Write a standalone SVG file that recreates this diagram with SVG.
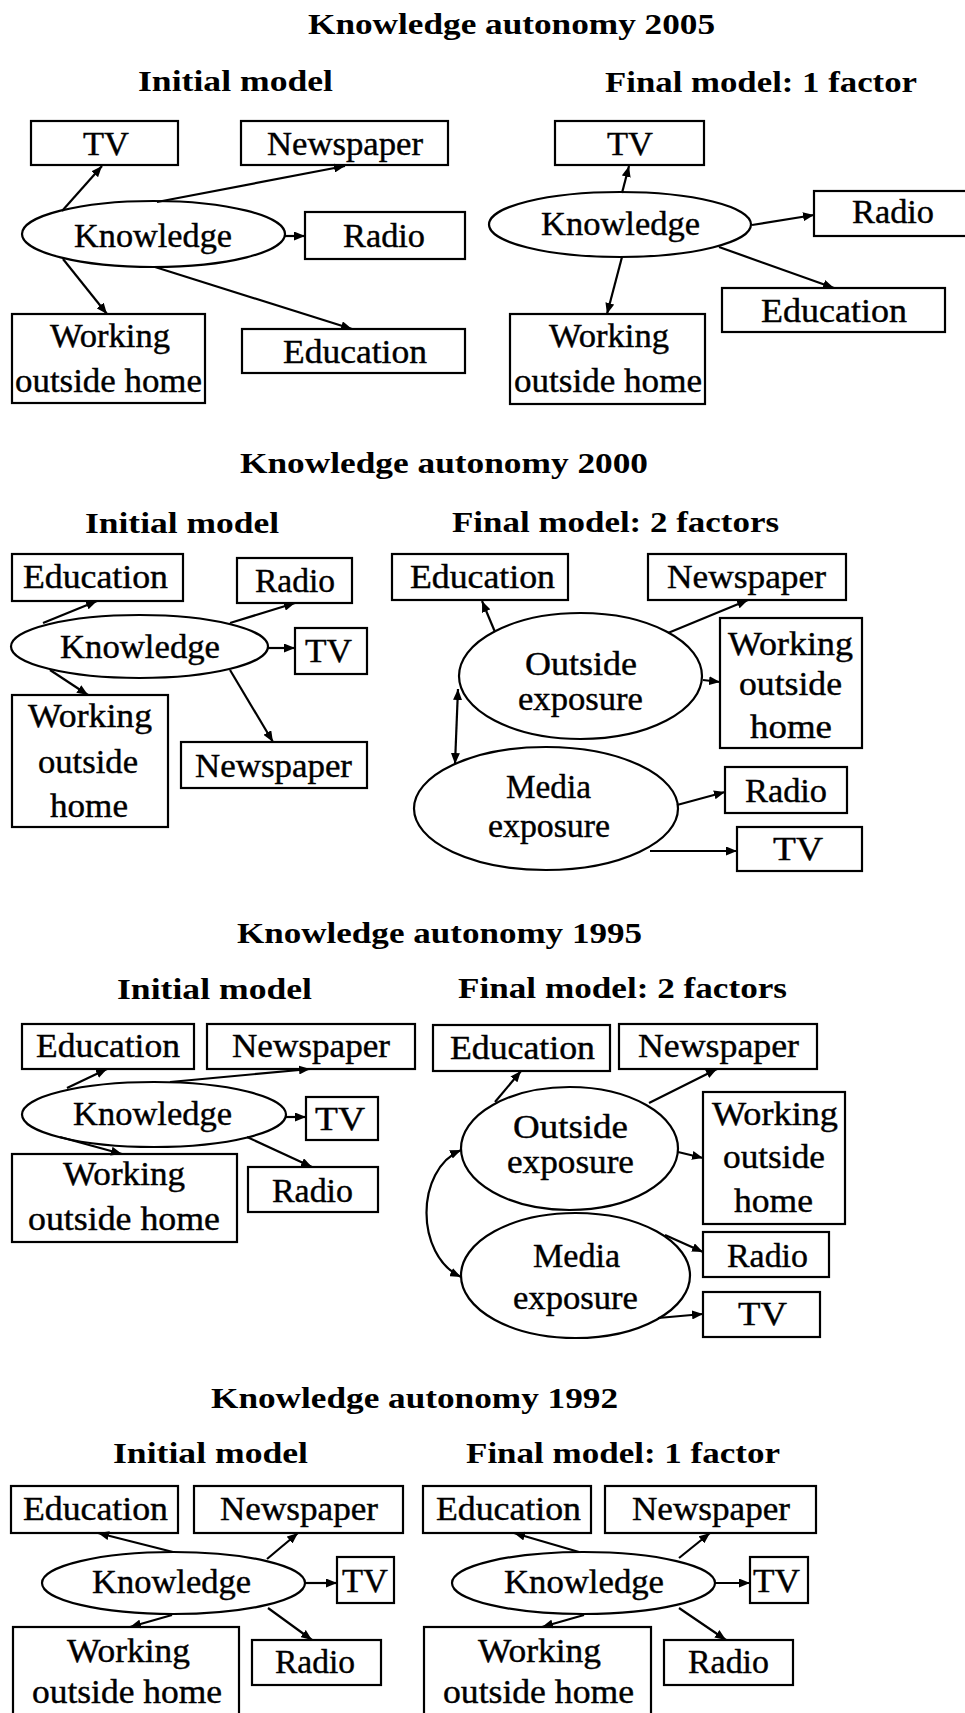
<svg xmlns="http://www.w3.org/2000/svg" width="965" height="1713" viewBox="0 0 965 1713">
  <defs>
    <style>
      .box { fill: #fff; stroke: #000; stroke-width: 2.2; }
      .oval { fill: #fff; stroke: #000; stroke-width: 2.2; }
      .lbl { font-family: "Liberation Serif", "Times New Roman", serif; font-size: 33px; fill: #000; stroke: #000; stroke-width: 0.4; }
      .ttl { font-family: "Liberation Serif", "Times New Roman", serif; font-size: 29px; font-weight: bold; fill: #000; }
      .edge { fill: none; stroke: #000; stroke-width: 2.2; marker-end: url(#ah); }
      .both { marker-start: url(#ah); }
    </style>
    <marker id="ah" viewBox="0 0 11 9" refX="11" refY="4.5" markerWidth="11" markerHeight="9" markerUnits="userSpaceOnUse" orient="auto-start-reverse">
      <path d="M0,0 L11,4.5 L0,9 z" fill="#000"/>
    </marker>
  </defs>
  <rect x="0" y="0" width="965" height="1713" fill="#fff"/>

  <!-- headings -->
  <g id="headings">
    <text class="ttl" x="308" y="34" textLength="407" lengthAdjust="spacingAndGlyphs">Knowledge autonomy 2005</text>
    <text class="ttl" x="138" y="91" textLength="195" lengthAdjust="spacingAndGlyphs">Initial model</text>
    <text class="ttl" x="605" y="92" textLength="312" lengthAdjust="spacingAndGlyphs">Final model: 1 factor</text>

    <text class="ttl" x="240" y="473" textLength="408" lengthAdjust="spacingAndGlyphs">Knowledge autonomy 2000</text>
    <text class="ttl" x="85" y="533" textLength="194" lengthAdjust="spacingAndGlyphs">Initial model</text>
    <text class="ttl" x="452" y="532" textLength="327" lengthAdjust="spacingAndGlyphs">Final model: 2 factors</text>

    <text class="ttl" x="237" y="943" textLength="405" lengthAdjust="spacingAndGlyphs">Knowledge autonomy 1995</text>
    <text class="ttl" x="117" y="999" textLength="195" lengthAdjust="spacingAndGlyphs">Initial model</text>
    <text class="ttl" x="458" y="998" textLength="329" lengthAdjust="spacingAndGlyphs">Final model: 2 factors</text>

    <text class="ttl" x="211" y="1408" textLength="407" lengthAdjust="spacingAndGlyphs">Knowledge autonomy 1992</text>
    <text class="ttl" x="113" y="1463" textLength="195" lengthAdjust="spacingAndGlyphs">Initial model</text>
    <text class="ttl" x="466" y="1463" textLength="314" lengthAdjust="spacingAndGlyphs">Final model: 1 factor</text>
  </g>

  <!-- ===== 2005 initial ===== -->
  <g id="n05i_tv"><rect class="box" x="31" y="121" width="147" height="44"/><text class="lbl" x="83" y="155" textLength="46" lengthAdjust="spacingAndGlyphs">TV</text></g>
  <g id="n05i_news"><rect class="box" x="241" y="121" width="207" height="44"/><text class="lbl" x="267" y="155" textLength="156" lengthAdjust="spacingAndGlyphs">Newspaper</text></g>
  <g id="n05i_know"><ellipse class="oval" cx="153.5" cy="234" rx="131.5" ry="33"/><text class="lbl" x="74" y="247" textLength="158" lengthAdjust="spacingAndGlyphs">Knowledge</text></g>
  <g id="n05i_radio"><rect class="box" x="305" y="212" width="160" height="47"/><text class="lbl" x="343" y="247" textLength="82" lengthAdjust="spacingAndGlyphs">Radio</text></g>
  <g id="n05i_work"><rect class="box" x="12" y="314" width="193" height="89"/><text class="lbl" x="50" y="347" textLength="120" lengthAdjust="spacingAndGlyphs">Working</text><text class="lbl" x="15" y="392" textLength="187" lengthAdjust="spacingAndGlyphs">outside home</text></g>
  <g id="n05i_edu"><rect class="box" x="242" y="329" width="223" height="44"/><text class="lbl" x="283" y="363" textLength="144" lengthAdjust="spacingAndGlyphs">Education</text></g>

  <!-- ===== 2005 final ===== -->
  <g id="n05f_tv"><rect class="box" x="555" y="121" width="149" height="44"/><text class="lbl" x="607" y="155" textLength="46" lengthAdjust="spacingAndGlyphs">TV</text></g>
  <g id="n05f_know"><ellipse class="oval" cx="620" cy="224.5" rx="131" ry="32.5"/><text class="lbl" x="541" y="235" textLength="159" lengthAdjust="spacingAndGlyphs">Knowledge</text></g>
  <g id="n05f_radio"><rect class="box" x="814" y="191" width="160" height="45"/><text class="lbl" x="852" y="223" textLength="82" lengthAdjust="spacingAndGlyphs">Radio</text></g>
  <g id="n05f_edu"><rect class="box" x="722" y="288" width="223" height="44"/><text class="lbl" x="761" y="322" textLength="146" lengthAdjust="spacingAndGlyphs">Education</text></g>
  <g id="n05f_work"><rect class="box" x="510" y="314" width="195" height="90"/><text class="lbl" x="549" y="347" textLength="120" lengthAdjust="spacingAndGlyphs">Working</text><text class="lbl" x="514" y="392" textLength="188" lengthAdjust="spacingAndGlyphs">outside home</text></g>

  <!-- ===== 2000 initial ===== -->
  <g id="n00i_edu"><rect class="box" x="12" y="554" width="171" height="47"/><text class="lbl" x="23" y="588" textLength="145" lengthAdjust="spacingAndGlyphs">Education</text></g>
  <g id="n00i_radio"><rect class="box" x="237" y="558" width="115" height="45"/><text class="lbl" x="255" y="592" textLength="80" lengthAdjust="spacingAndGlyphs">Radio</text></g>
  <g id="n00i_know"><ellipse class="oval" cx="139.5" cy="646.5" rx="128.5" ry="31.5"/><text class="lbl" x="60" y="658" textLength="160" lengthAdjust="spacingAndGlyphs">Knowledge</text></g>
  <g id="n00i_tv"><rect class="box" x="295" y="628" width="72" height="46"/><text class="lbl" x="305" y="662" textLength="47" lengthAdjust="spacingAndGlyphs">TV</text></g>
  <g id="n00i_work"><rect class="box" x="12" y="695" width="156" height="132"/><text class="lbl" x="28" y="727" textLength="124" lengthAdjust="spacingAndGlyphs">Working</text><text class="lbl" x="38" y="773" textLength="100" lengthAdjust="spacingAndGlyphs">outside</text><text class="lbl" x="50" y="817" textLength="78" lengthAdjust="spacingAndGlyphs">home</text></g>
  <g id="n00i_news"><rect class="box" x="181" y="742" width="186" height="46"/><text class="lbl" x="195" y="777" textLength="157" lengthAdjust="spacingAndGlyphs">Newspaper</text></g>

  <!-- ===== 2000 final ===== -->
  <g id="n00f_edu"><rect class="box" x="392" y="554" width="176" height="46"/><text class="lbl" x="410" y="588" textLength="145" lengthAdjust="spacingAndGlyphs">Education</text></g>
  <g id="n00f_news"><rect class="box" x="648" y="554" width="198" height="46"/><text class="lbl" x="667" y="588" textLength="159" lengthAdjust="spacingAndGlyphs">Newspaper</text></g>
  <g id="n00f_work"><rect class="box" x="720" y="618" width="142" height="130"/><text class="lbl" x="728" y="655" textLength="125" lengthAdjust="spacingAndGlyphs">Working</text><text class="lbl" x="739" y="695" textLength="103" lengthAdjust="spacingAndGlyphs">outside</text><text class="lbl" x="750" y="738" textLength="82" lengthAdjust="spacingAndGlyphs">home</text></g>
  <g id="n00f_radio"><rect class="box" x="725" y="767" width="122" height="46"/><text class="lbl" x="745" y="802" textLength="82" lengthAdjust="spacingAndGlyphs">Radio</text></g>
  <g id="n00f_tv"><rect class="box" x="737" y="827" width="125" height="44"/><text class="lbl" x="773" y="860" textLength="50" lengthAdjust="spacingAndGlyphs">TV</text></g>
  <g id="n00f_out"><ellipse class="oval" cx="580.5" cy="676" rx="121.5" ry="63"/><text class="lbl" x="525" y="675" textLength="112" lengthAdjust="spacingAndGlyphs">Outside</text><text class="lbl" x="518" y="710" textLength="125" lengthAdjust="spacingAndGlyphs">exposure</text></g>
  <g id="n00f_media"><ellipse class="oval" cx="546" cy="808.5" rx="132" ry="61.5"/><text class="lbl" x="506" y="798" textLength="85" lengthAdjust="spacingAndGlyphs">Media</text><text class="lbl" x="488" y="837" textLength="122" lengthAdjust="spacingAndGlyphs">exposure</text></g>

  <!-- ===== 1995 initial ===== -->
  <g id="n95i_edu"><rect class="box" x="22" y="1024" width="172" height="45"/><text class="lbl" x="36" y="1057" textLength="144" lengthAdjust="spacingAndGlyphs">Education</text></g>
  <g id="n95i_news"><rect class="box" x="207" y="1024" width="208" height="45"/><text class="lbl" x="232" y="1057" textLength="158" lengthAdjust="spacingAndGlyphs">Newspaper</text></g>
  <g id="n95i_know"><ellipse class="oval" cx="154" cy="1114.5" rx="132" ry="32.5"/><text class="lbl" x="73" y="1125" textLength="159" lengthAdjust="spacingAndGlyphs">Knowledge</text></g>
  <g id="n95i_tv"><rect class="box" x="306" y="1097" width="72" height="43"/><text class="lbl" x="315" y="1130" textLength="50" lengthAdjust="spacingAndGlyphs">TV</text></g>
  <g id="n95i_work"><rect class="box" x="12" y="1154" width="225" height="88"/><text class="lbl" x="63" y="1185" textLength="122" lengthAdjust="spacingAndGlyphs">Working</text><text class="lbl" x="28" y="1230" textLength="192" lengthAdjust="spacingAndGlyphs">outside home</text></g>
  <g id="n95i_radio"><rect class="box" x="248" y="1167" width="130" height="45"/><text class="lbl" x="272" y="1202" textLength="81" lengthAdjust="spacingAndGlyphs">Radio</text></g>

  <!-- ===== 1995 final ===== -->
  <g id="n95f_edu"><rect class="box" x="433" y="1025" width="177" height="46"/><text class="lbl" x="450" y="1059" textLength="145" lengthAdjust="spacingAndGlyphs">Education</text></g>
  <g id="n95f_news"><rect class="box" x="619" y="1024" width="198" height="45"/><text class="lbl" x="638" y="1057" textLength="161" lengthAdjust="spacingAndGlyphs">Newspaper</text></g>
  <g id="n95f_work"><rect class="box" x="703" y="1092" width="142" height="132"/><text class="lbl" x="712" y="1125" textLength="126" lengthAdjust="spacingAndGlyphs">Working</text><text class="lbl" x="723" y="1168" textLength="102" lengthAdjust="spacingAndGlyphs">outside</text><text class="lbl" x="734" y="1212" textLength="79" lengthAdjust="spacingAndGlyphs">home</text></g>
  <g id="n95f_radio"><rect class="box" x="703" y="1232" width="126" height="45"/><text class="lbl" x="727" y="1267" textLength="81" lengthAdjust="spacingAndGlyphs">Radio</text></g>
  <g id="n95f_tv"><rect class="box" x="703" y="1292" width="117" height="45"/><text class="lbl" x="738" y="1325" textLength="49" lengthAdjust="spacingAndGlyphs">TV</text></g>
  <g id="n95f_out"><ellipse class="oval" cx="569.5" cy="1148.5" rx="108.5" ry="61.5"/><text class="lbl" x="513" y="1138" textLength="115" lengthAdjust="spacingAndGlyphs">Outside</text><text class="lbl" x="507" y="1173" textLength="127" lengthAdjust="spacingAndGlyphs">exposure</text></g>
  <g id="n95f_media"><ellipse class="oval" cx="575.5" cy="1275.5" rx="114.5" ry="62.5"/><text class="lbl" x="533" y="1267" textLength="87" lengthAdjust="spacingAndGlyphs">Media</text><text class="lbl" x="513" y="1309" textLength="125" lengthAdjust="spacingAndGlyphs">exposure</text></g>

  <!-- ===== 1992 initial ===== -->
  <g id="n92i_edu"><rect class="box" x="11" y="1486" width="167" height="47"/><text class="lbl" x="23" y="1520" textLength="145" lengthAdjust="spacingAndGlyphs">Education</text></g>
  <g id="n92i_news"><rect class="box" x="194" y="1486" width="209" height="47"/><text class="lbl" x="220" y="1520" textLength="158" lengthAdjust="spacingAndGlyphs">Newspaper</text></g>
  <g id="n92i_know"><ellipse class="oval" cx="173.5" cy="1583" rx="131.5" ry="31"/><text class="lbl" x="92" y="1593" textLength="159" lengthAdjust="spacingAndGlyphs">Knowledge</text></g>
  <g id="n92i_tv"><rect class="box" x="337" y="1557" width="57" height="46"/><text class="lbl" x="342" y="1592" textLength="46" lengthAdjust="spacingAndGlyphs">TV</text></g>
  <g id="n92i_work"><rect class="box" x="13" y="1627" width="226" height="100"/><text class="lbl" x="67" y="1662" textLength="123" lengthAdjust="spacingAndGlyphs">Working</text><text class="lbl" x="32" y="1703" textLength="190" lengthAdjust="spacingAndGlyphs">outside home</text></g>
  <g id="n92i_radio"><rect class="box" x="252" y="1640" width="129" height="45"/><text class="lbl" x="275" y="1673" textLength="80" lengthAdjust="spacingAndGlyphs">Radio</text></g>

  <!-- ===== 1992 final ===== -->
  <g id="n92f_edu"><rect class="box" x="423" y="1486" width="168" height="47"/><text class="lbl" x="436" y="1520" textLength="145" lengthAdjust="spacingAndGlyphs">Education</text></g>
  <g id="n92f_news"><rect class="box" x="605" y="1486" width="211" height="47"/><text class="lbl" x="632" y="1520" textLength="158" lengthAdjust="spacingAndGlyphs">Newspaper</text></g>
  <g id="n92f_know"><ellipse class="oval" cx="583.5" cy="1583" rx="131.5" ry="31"/><text class="lbl" x="504" y="1593" textLength="160" lengthAdjust="spacingAndGlyphs">Knowledge</text></g>
  <g id="n92f_tv"><rect class="box" x="750" y="1557" width="58" height="46"/><text class="lbl" x="753" y="1592" textLength="47" lengthAdjust="spacingAndGlyphs">TV</text></g>
  <g id="n92f_work"><rect class="box" x="424" y="1627" width="227" height="100"/><text class="lbl" x="478" y="1662" textLength="123" lengthAdjust="spacingAndGlyphs">Working</text><text class="lbl" x="443" y="1703" textLength="191" lengthAdjust="spacingAndGlyphs">outside home</text></g>
  <g id="n92f_radio"><rect class="box" x="664" y="1640" width="129" height="45"/><text class="lbl" x="688" y="1673" textLength="81" lengthAdjust="spacingAndGlyphs">Radio</text></g>

  <!-- loadings and correlations -->
  <g id="connectors">
    <!-- 2005 initial -->
    <line class="edge" x1="62" y1="211" x2="102" y2="166"/>
    <line class="edge" x1="157" y1="202" x2="345" y2="166"/>
    <line class="edge" x1="285" y1="236" x2="305" y2="236"/>
    <line class="edge" x1="63" y1="259" x2="107" y2="314"/>
    <line class="edge" x1="155" y1="267" x2="352" y2="329"/>
    <!-- 2005 final -->
    <line class="edge" x1="622" y1="193" x2="629" y2="166"/>
    <line class="edge" x1="752" y1="225" x2="814" y2="215"/>
    <line class="edge" x1="719" y1="247" x2="834" y2="288"/>
    <line class="edge" x1="622" y1="257" x2="607" y2="314"/>
    <!-- 2000 initial -->
    <line class="edge" x1="43" y1="623" x2="97" y2="601"/>
    <line class="edge" x1="230" y1="623" x2="295" y2="603"/>
    <line class="edge" x1="268" y1="648" x2="295" y2="648"/>
    <line class="edge" x1="50" y1="670" x2="88" y2="695"/>
    <line class="edge" x1="230" y1="670" x2="273" y2="742"/>
    <!-- 2000 final -->
    <line class="edge" x1="495" y1="632" x2="482" y2="601"/>
    <line class="edge" x1="668" y1="633" x2="748" y2="600"/>
    <line class="edge" x1="703" y1="680" x2="720" y2="682"/>
    <line class="edge both" x1="458" y1="689" x2="455" y2="764"/>
    <line class="edge" x1="677" y1="805" x2="725" y2="792"/>
    <line class="edge" x1="650" y1="851" x2="737" y2="851"/>
    <!-- 1995 initial -->
    <line class="edge" x1="67" y1="1088" x2="107" y2="1069"/>
    <line class="edge" x1="170" y1="1082" x2="310" y2="1069"/>
    <line class="edge" x1="286" y1="1117" x2="306" y2="1117"/>
    <line class="edge" x1="60" y1="1137" x2="122" y2="1154"/>
    <line class="edge" x1="247" y1="1137" x2="312" y2="1167"/>
    <!-- 1995 final -->
    <line class="edge" x1="495" y1="1102" x2="521" y2="1071"/>
    <line class="edge" x1="649" y1="1103" x2="717" y2="1069"/>
    <line class="edge" x1="678" y1="1152" x2="703" y2="1158"/>
    <line class="edge" x1="665" y1="1235" x2="703" y2="1252"/>
    <line class="edge" x1="658" y1="1318" x2="703" y2="1314"/>
    <path class="edge both" d="M461,1150 C415,1170 415,1255 461,1277"/>
    <!-- 1992 initial -->
    <line class="edge" x1="173" y1="1552" x2="98" y2="1533"/>
    <line class="edge" x1="267" y1="1559" x2="298" y2="1533"/>
    <line class="edge" x1="305" y1="1583" x2="337" y2="1583"/>
    <line class="edge" x1="172" y1="1615" x2="130" y2="1627"/>
    <line class="edge" x1="268" y1="1608" x2="312" y2="1640"/>
    <!-- 1992 final -->
    <line class="edge" x1="579" y1="1552" x2="514" y2="1533"/>
    <line class="edge" x1="679" y1="1558" x2="710" y2="1533"/>
    <line class="edge" x1="715" y1="1583" x2="750" y2="1583"/>
    <line class="edge" x1="584" y1="1615" x2="542" y2="1627"/>
    <line class="edge" x1="679" y1="1608" x2="726" y2="1640"/>
  </g>
</svg>
